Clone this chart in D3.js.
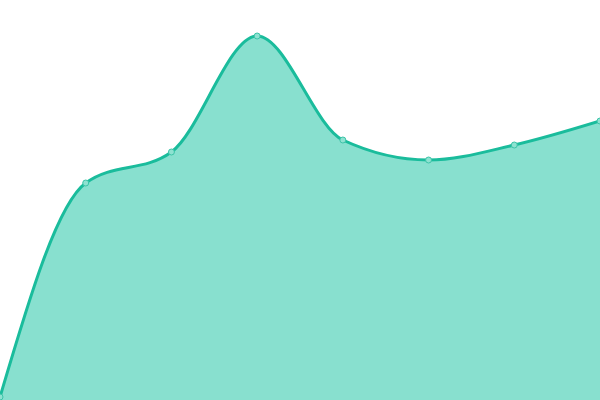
<!DOCTYPE html>
<html>
<head>
<meta charset="utf-8">
<script src="https://cdn.jsdelivr.net/npm/d3@7"></script>
<style>
  html, body { margin: 0; padding: 0; background: #fff; overflow: hidden; }
  svg { display: block; }
</style>
</head>
<body>
<svg id="canvas"></svg>
<script>
let width = 600
let height = 400

// (bottom of the window = 0)
let categories = ["A", "B", "C", "D", "E", "F", "G", "H"]
let values = [3, 217, 248, 364, 260, 240, 255, 279]

let canvas = d3.select("#canvas")
  .attr("width", width)
  .attr("height", height)

let xScale = d3.scalePoint()
  .domain(categories)
  .range([0, width])

let yScale = d3.scaleLinear()
  .domain([0, 400])
  .range([height, 0])

let points = categories.map((c, i) => ({ cat: c, value: values[i] }))

let area = d3.area()
  .x(d => xScale(d.cat))
  .y0(yScale(0))
  .y1(d => yScale(d.value))
  .curve(d3.curveMonotoneX)

let line = d3.line()
  .x(d => xScale(d.cat))
  .y(d => yScale(d.value))
  .curve(d3.curveMonotoneX)

canvas.append("path")
  .datum(points)
  .attr("d", area)
  .attr("fill", "#88e0cf")

canvas.append("path")
  .datum(points)
  .attr("d", line)
  .attr("fill", "none")
  .attr("stroke", "#1abc9c")
  .attr("stroke-width", 3)

canvas.selectAll("circle")
  .data(points)
  .enter().append("circle")
  .attr("cx", d => xScale(d.cat))
  .attr("cy", d => yScale(d.value))
  .attr("r", 3)
  .attr("fill", "#8ee2d1")
  .attr("stroke", "#3cc4a8")
  .attr("stroke-width", 1)
</script>
</body>
</html>
